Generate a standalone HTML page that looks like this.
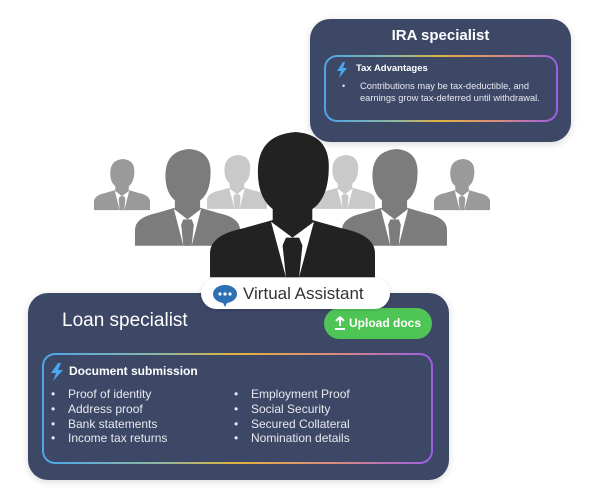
<!DOCTYPE html>
<html><head><meta charset="utf-8"><style>
*{margin:0;padding:0;box-sizing:border-box}
body{width:600px;height:500px;background:#fff;position:relative;overflow:hidden;font-family:"Liberation Sans",sans-serif}
.card{position:absolute;background:#3d4766;border-radius:20px;box-shadow:0 2px 8px rgba(0,0,0,.15)}
.gb{position:absolute;border:2px solid transparent;border-radius:13px;background:linear-gradient(#3d4766,#3d4766) padding-box,linear-gradient(90deg,#4ba6ea,#8fb7a0 30%,#e2b23e 50%,#d98a80 75%,#9b5de5) border-box}
.t{position:absolute;color:#fff;white-space:nowrap}
.li{position:absolute;color:#e8eaf0;font-size:12px;white-space:nowrap}
</style></head><body>
<svg width="600" height="500" style="position:absolute;left:0;top:0">
<defs>
<g id="p">
<path d="M0,110 L0,92 Q0,78 20,73 L40,66 L60,66 L80,73 Q100,78 100,92 L100,110 Z"/>
<rect x="38" y="48" width="24" height="22"/>
<path d="M29,30 Q29,2 52,0 Q72,2 72,26 Q72,52 60,60 L40,60 Q29,52 29,30 Z"/>
<polygon points="37,68 46,110 54,110 63,68 50,80" fill="#fff"/>
<polygon points="46,80 54,80 56,86 54,110 46,110 44,86"/>
</g>
</defs>
<g fill="#9a9a9a"><use href="#p" transform="translate(94,159) scale(0.56,0.465)"/><use href="#p" transform="translate(434,159) scale(0.56,0.465)"/></g>
<g fill="#c9c9c9"><use href="#p" transform="translate(207,155) scale(0.6,0.49)"/><use href="#p" transform="translate(315,155) scale(0.6,0.49)"/></g>
<g fill="#7c7c7c"><use href="#p" transform="translate(135,149) scale(1.05,0.88)"/><use href="#p" transform="translate(342,149) scale(1.05,0.88)"/></g>
<g fill="#222"><use href="#p" transform="translate(210,132) scale(1.65,1.32)"/></g>
</svg>

<div class="card" style="left:310px;top:19px;width:261px;height:123px"></div>
<div class="t" style="left:310px;width:261px;top:27px;text-align:center;font-size:15px;font-weight:bold">IRA specialist</div>
<div class="gb" style="left:324px;top:55px;width:234px;height:67px"></div>
<svg width="12" height="16" style="position:absolute;left:336px;top:62px"><polygon points="7,0 1,9 5,9 3,16 11,6 7,6 9,0" fill="#4aa8ee"/></svg>
<div class="t" style="left:356px;top:63px;font-size:9.5px;font-weight:bold">Tax Advantages</div>
<div class="t" style="left:342px;top:81px;font-size:9px;color:#e8eaf0">•</div>
<div class="t" style="left:360px;top:81px;font-size:9.3px;line-height:11.5px;color:#e8eaf0">Contributions may be tax-deductible, and<br>earnings grow tax-deferred until withdrawal.</div>

<div class="card" style="left:28px;top:293px;width:421px;height:187px"></div>
<div class="t" style="left:62px;top:310px;font-size:19px">Loan specialist</div>
<div style="position:absolute;left:324px;top:308px;width:108px;height:31px;border-radius:16px;background:#4fc556"></div>
<svg width="12" height="14" style="position:absolute;left:334px;top:316px"><path d="M6,1 L2,5 M6,1 L10,5 M6,1 L6,10 M1,13 L11,13" stroke="#fff" stroke-width="2" fill="none"/></svg>
<div class="t" style="left:349px;top:316px;font-size:12px;font-weight:bold">Upload docs</div>
<div class="gb" style="left:42px;top:353px;width:391px;height:111px"></div>
<svg width="14" height="18" style="position:absolute;left:50px;top:363px"><polygon points="8,0 1,10 6,10 3,18 13,7 8,7 11,0" fill="#4aa8ee"/></svg>
<div class="t" style="left:69px;top:364px;font-size:12px;font-weight:bold">Document submission</div>
<div class="li" style="left:51px;top:387px;line-height:14.8px">•<br>•<br>•<br>•</div>
<div class="li" style="left:68px;top:387px;line-height:14.8px">Proof of identity<br>Address proof<br>Bank statements<br>Income tax returns</div>
<div class="li" style="left:234px;top:387px;line-height:14.8px">•<br>•<br>•<br>•</div>
<div class="li" style="left:251px;top:387px;line-height:14.8px">Employment Proof<br>Social Security<br>Secured Collateral<br>Nomination details</div>

<div style="position:absolute;left:201px;top:278px;width:189px;height:31px;border-radius:16px;background:#fff;box-shadow:0 1px 4px rgba(0,0,0,.15)"></div>
<svg width="26" height="24" style="position:absolute;left:212px;top:284px"><ellipse cx="13" cy="10" rx="12" ry="9" fill="#2f6fb3"/><polygon points="10,17 16,17 13,23" fill="#2f6fb3"/><circle cx="8" cy="10" r="1.6" fill="#fff"/><circle cx="13" cy="10" r="1.6" fill="#fff"/><circle cx="18" cy="10" r="1.6" fill="#fff"/></svg>
<div class="t" style="left:243px;top:284px;font-size:17px;color:#333">Virtual Assistant</div>
</body></html>
